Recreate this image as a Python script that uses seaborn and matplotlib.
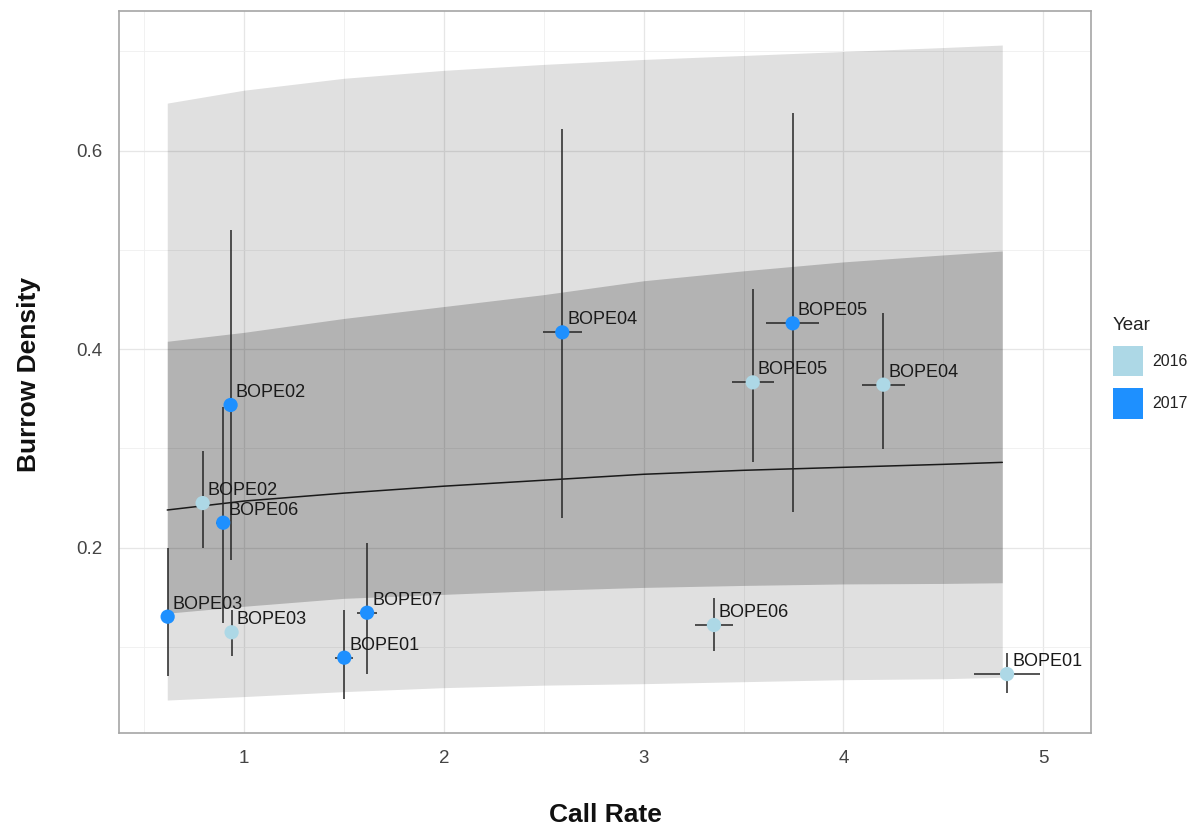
import matplotlib
matplotlib.use("Agg")
import matplotlib.pyplot as plt
from matplotlib.patches import Patch
from matplotlib.ticker import MultipleLocator
import seaborn as sns
import pandas as pd

# ---------------- data ----------------
site = ["BOPE03", "BOPE06", "BOPE02", "BOPE01", "BOPE07", "BOPE04", "BOPE05",
        "BOPE02", "BOPE03", "BOPE05", "BOPE04", "BOPE06", "BOPE01"]
year = ["2017", "2017", "2017", "2017", "2017", "2017", "2017",
        "2016", "2016", "2016", "2016", "2016", "2016"]
call_rate = [0.618, 0.896, 0.933, 1.502, 1.616, 2.593, 3.746,
             0.793, 0.938, 3.546, 4.200, 3.352, 4.819]
call_rate_err = [0.02, 0.035, 0.02, 0.045, 0.05, 0.097, 0.134,
                 0.02, 0.02, 0.106, 0.108, 0.093, 0.164]
density = [0.1305, 0.2252, 0.3438, 0.0892, 0.1345, 0.417, 0.4261,
           0.245, 0.1148, 0.3666, 0.3643, 0.1221, 0.0727]
density_lo = [0.0707, 0.1238, 0.1876, 0.0476, 0.0727, 0.2296, 0.2357,
              0.1994, 0.091, 0.2867, 0.2994, 0.0962, 0.0533]
density_hi = [0.200, 0.342, 0.520, 0.1372, 0.205, 0.6219, 0.6377,
              0.2974, 0.137, 0.4603, 0.4362, 0.1496, 0.0942]

fit_x = [0.616, 1.0, 1.5, 2.0, 2.5, 3.0, 3.5, 4.0, 4.5, 4.795]
fit_y = [0.238, 0.247, 0.255, 0.262, 0.268, 0.274, 0.278, 0.281, 0.284, 0.286]
inner_lo = [0.134, 0.141, 0.149, 0.153, 0.157, 0.160, 0.162, 0.1635, 0.164, 0.1647]
inner_hi = [0.408, 0.417, 0.431, 0.443, 0.455, 0.469, 0.479, 0.488, 0.495, 0.499]
outer_lo = [0.0465, 0.050, 0.055, 0.059, 0.0615, 0.063, 0.065, 0.067, 0.068, 0.0694]
outer_hi = [0.648, 0.661, 0.673, 0.681, 0.687, 0.692, 0.696, 0.700, 0.704, 0.7065]

year_levels = ["2016", "2017"]
year_colors = ["#ADD8E6", "#1E90FF"]

x_ticks = [1, 2, 3, 4, 5]
y_ticks = [0.2, 0.4, 0.6]

# ---------------- styling ----------------
sns.set_style("white")
plt.rcParams["font.family"] = ["Liberation Sans", "DejaVu Sans"]

df = pd.DataFrame({"site": site, "year": year, "rate": call_rate,
                   "rate_err": call_rate_err, "dens": density,
                   "lo": density_lo, "hi": density_hi})
fit = pd.DataFrame({"x": fit_x, "y": fit_y})

fig = plt.figure(figsize=(12.02, 8.32), dpi=100)
ax = fig.add_axes([119.3 / 1202, 1 - 733 / 832, (1091 - 119.3) / 1202, (733 - 11) / 832])

ax.set_xlim(0.376, 5.239)
ax.set_ylim(0.0133, 0.7408)

# grid
ax.xaxis.set_major_locator(plt.FixedLocator(x_ticks))
ax.yaxis.set_major_locator(plt.FixedLocator(y_ticks))
ax.xaxis.set_minor_locator(MultipleLocator(0.5))
ax.yaxis.set_minor_locator(MultipleLocator(0.1))
ax.grid(which="major", color="#E6E6E6", lw=0.9, zorder=0)
ax.grid(which="minor", color="#EFEFEF", lw=0.6, zorder=0)
ax.set_axisbelow(True)

# prediction bands
ax.fill_between(fit_x, outer_lo, outer_hi, color="black", alpha=0.12, lw=0, zorder=1)
ax.fill_between(fit_x, inner_lo, inner_hi, color="black", alpha=0.2, lw=0, zorder=1)

# fitted line
sns.lineplot(data=fit, x="x", y="y", color="#1a1a1a", lw=1.1, ax=ax, zorder=2)

# error bars
ax.errorbar(df["rate"], df["dens"],
            yerr=[df["dens"] - df["lo"], df["hi"] - df["dens"]],
            xerr=df["rate_err"], fmt="none", ecolor="#262626",
            elinewidth=1.1, capsize=0, zorder=3)

# points
sns.scatterplot(data=df, x="rate", y="dens", hue="year",
                hue_order=year_levels, palette=year_colors,
                s=105, linewidth=0, legend=False, ax=ax, zorder=4)

# labels
for _, r in df.iterrows():
    ax.annotate(r["site"], (r["rate"], r["dens"]), xytext=(3.6, 5.8),
                textcoords="offset points", ha="left", va="baseline",
                fontsize=13, color="#1a1a1a", zorder=5)

# axes / ticks
for sp in ax.spines.values():
    sp.set_color("#A6A6A6")
    sp.set_linewidth(1.2)
ax.tick_params(which="major", direction="out", length=3.2, width=1,
               color="#333333", labelsize=13.5, labelcolor="#444444", pad=9)
ax.tick_params(which="minor", length=0)
ax.set_xticklabels([str(t) for t in x_ticks])
ax.set_yticklabels([f"{t:.1f}" for t in y_ticks])

ax.set_xlabel("Call Rate", fontsize=19, fontweight="bold", color="#111111")
ax.set_ylabel("Burrow Density", fontsize=19, fontweight="bold", color="#111111")
ax.xaxis.set_label_coords(0.5, -0.0974)
ax.yaxis.set_label_coords(-0.081, 0.496)

# legend
handles = [Patch(facecolor=c, edgecolor="none", label=l)
           for l, c in zip(year_levels, year_colors)]
leg = fig.legend(handles=handles, title="Year", loc="upper left",
                 bbox_to_anchor=(1113 / 1202, 1 - 317 / 832), frameon=False,
                 fontsize=11.5, title_fontsize=13.5, handlelength=1.9,
                 handleheight=2.55, labelspacing=0.75, handletextpad=0.55,
                 borderpad=0, borderaxespad=0, alignment="left")
leg.get_title().set_color("#222222")
for t in leg.get_texts():
    t.set_color("#222222")

fig.savefig("out.png", dpi=100)
